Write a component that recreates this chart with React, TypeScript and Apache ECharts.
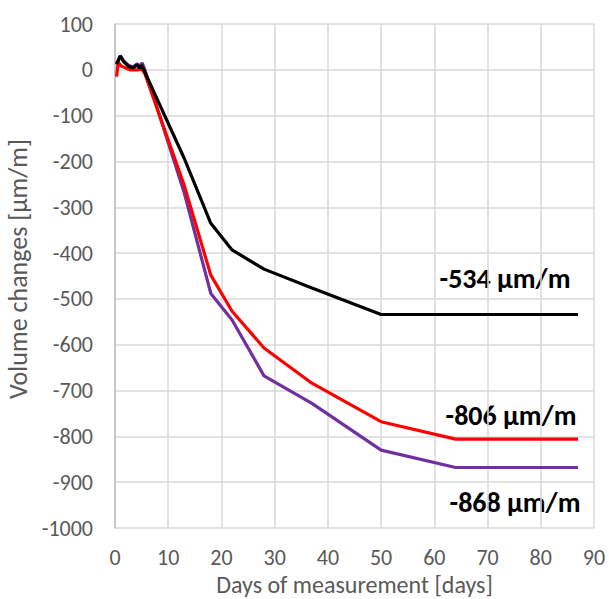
import React, { useEffect, useRef } from "react";
import * as echarts from "echarts";

const blackDays = [0.3, 1, 1.6, 2.5, 3.4, 4.1, 4.6, 5.0, 5.6, 13, 18, 22, 28, 37, 50, 64, 87];
const blackVals = [12, 30, 18, 8, 4, 11, 4, 10, -5, -193, -335, -393, -435, -476, -534, -534, -534];

const redDays = [0.3, 0.6, 1.2, 2.8, 4.4, 5.0, 5.6, 13, 18, 22, 28, 37, 50, 64, 87];
const redVals = [-15, 16, 8, 0, 0, 2, -8, -252, -448, -527, -607, -684, -768, -806, -806];

const purpleDays = [0.3, 1, 1.6, 2.5, 3.4, 4.2, 4.7, 5.1, 5.7, 13, 18, 22, 28, 37, 50, 64, 87];
const purpleVals = [14, 31, 20, 10, 6, 13, 8, 15, -3, -268, -488, -546, -668, -728, -830, -868, -868];

const xTicks = { min: 0, max: 90, step: 10 };
const yTicks = { min: -1000, max: 100, step: 100 };

const endLabels = ["-534 μm/m", "-806 μm/m", "-868 μm/m"];

const FONT = "Carlito, Calibri, 'Open Sans', sans-serif";

function zip(xs: number[], ys: number[]) {
  return xs.map((x, i) => [x, ys[i]]);
}

export default function App() {
  const ref = useRef<HTMLDivElement>(null);
  useEffect(() => {
    if (!ref.current) return;
    const chart = echarts.init(ref.current, undefined, { renderer: "svg" });
    const lineSeries = (name: string, data: number[][], color: string) => ({
      name,
      type: "line",
      data,
      showSymbol: false,
      symbol: "none",
      lineStyle: { color, width: 3.2 },
      itemStyle: { color },
    });
    const labelFont = `bold 28px ${FONT}`;
    chart.setOption({
      animation: false,
      backgroundColor: "#ffffff",
      grid: { left: 115, right: 15, top: 24, bottom: 71, containLabel: false, outerBoundsMode: "none" },
      xAxis: {
        type: "value",
        min: xTicks.min,
        max: xTicks.max,
        interval: xTicks.step,
        name: "Days of measurement [days]",
        nameLocation: "middle",
        nameGap: 36,
        nameTextStyle: { color: "#595959", fontSize: 24, lineHeight: 24, fontFamily: FONT },
        axisLine: { show: false },
        axisTick: { show: false },
        axisLabel: { color: "#595959", fontSize: 22, fontFamily: FONT, margin: 18 },
        splitLine: { show: true, lineStyle: { color: "#d9d9d9", width: 1.5 } },
      },
      yAxis: {
        type: "value",
        min: yTicks.min,
        max: yTicks.max,
        interval: yTicks.step,
        name: "Volume changes [μm/m]",
        nameLocation: "middle",
        nameGap: 68,
        nameRotate: 90,
        nameTextStyle: { color: "#595959", fontSize: 26, fontFamily: FONT, padding: [0, 0, 0, 14] },
        axisLine: { show: true, lineStyle: { color: "#bfbfbf", width: 1.5 } },
        axisTick: { show: false },
        axisLabel: {
          color: "#595959",
          fontSize: 22,
          fontFamily: FONT,
          margin: 22,
          formatter: (v: number) => String(v),
        },
        splitLine: { show: true, lineStyle: { color: "#d9d9d9", width: 1.5 } },
      },
      series: [
        lineSeries("Purple", zip(purpleDays, purpleVals), "#7030a0"),
        lineSeries("Red", zip(redDays, redVals), "#ff0000"),
        lineSeries("Black", zip(blackDays, blackVals), "#000000"),
      ],
      graphic: [
        { type: "text", x: 505, y: 278, style: { text: endLabels[0], font: labelFont, fill: "#000", align: "center", verticalAlign: "middle" } },
        { type: "text", x: 511, y: 415, style: { text: endLabels[1], font: labelFont, fill: "#000", align: "center", verticalAlign: "middle" } },
        { type: "text", x: 515, y: 502, style: { text: endLabels[2], font: labelFont, fill: "#000", align: "center", verticalAlign: "middle" } },
      ],
    });
    return () => chart.dispose();
  }, []);
  return (
    <div
      ref={ref}
      style={{ position: "fixed", left: 0, top: 0, width: 609, height: 599, background: "#fff" }}
    />
  );
}
